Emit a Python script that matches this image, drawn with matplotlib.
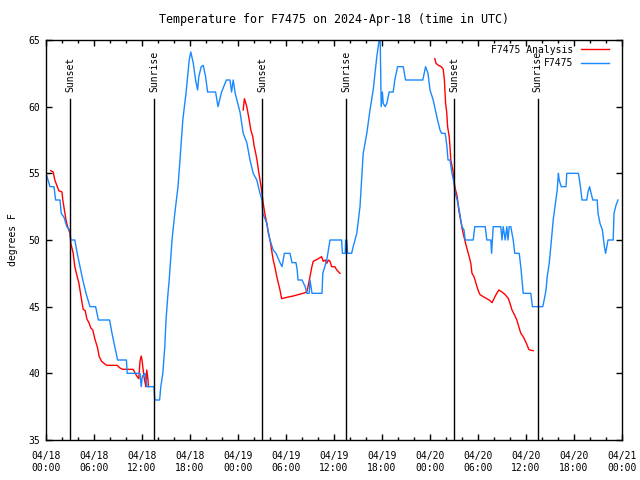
"""Temperature for F7475 on 2024-Apr-18: observations vs analysis, with sunset/sunrise marks."""

import numpy as np
import matplotlib
matplotlib.use("Agg")
import matplotlib.pyplot as plt
import matplotlib.dates as mdates

# ---
# Data (hours after 2024-04-18 00:00 UTC, degrees F)
# ---

start = np.datetime64("2024-04-18T00:00")

obs_hours = [
    0.0, 0.5, 1.0, 1.2, 1.75, 1.9, 2.25, 2.6, 3.0, 3.1, 3.6, 3.9, 4.25, 4.6, 5.0,
    5.25, 5.5, 6.2, 6.55, 7.95, 8.25, 8.6, 8.95, 10.05, 10.15, 11.75, 11.9, 12.05,
    12.4, 12.6, 13.5, 13.6, 14.2, 14.35, 14.6, 14.85, 15.0, 15.25, 15.4, 15.75,
    16.1, 16.5, 16.75, 17.1, 17.5, 17.9, 18.1, 18.4, 18.7, 18.95, 19.1, 19.4,
    19.65, 19.95, 20.2, 21.2, 21.5, 21.7, 21.95, 22.55, 23.0, 23.2, 23.4, 23.65,
    23.9, 24.25, 24.65, 25.1, 25.5, 25.9, 26.35, 26.75, 27.0, 27.1, 27.6, 27.75,
    28.0, 28.4, 28.75, 29.25, 29.5, 29.8, 30.5, 30.75, 31.25, 31.4, 31.5, 32.0,
    32.4, 32.6, 32.9, 33.0, 33.25, 34.5, 34.6, 35.1, 35.5, 36.95, 37.05, 37.4,
    37.45, 37.6, 37.7, 38.2, 38.4, 38.85, 39.25, 39.65, 40.1, 40.5, 40.9, 41.35,
    41.6, 41.75, 41.9, 42.05, 42.15, 42.4, 42.6, 42.9, 43.4, 43.6, 43.95, 44.65,
    44.95, 47.1, 47.45, 47.75, 48.0, 48.4, 48.85, 49.25, 49.45, 49.9, 50.1,
    50.25, 50.5, 50.75, 51.0, 51.15, 51.4, 51.65, 51.85, 52.0, 52.25, 52.4, 53.4,
    53.6, 54.9, 55.1, 55.6, 55.7, 55.8, 55.9, 56.85, 57.0, 57.15, 57.4, 57.6,
    57.75, 57.9, 58.1, 58.4, 58.6, 59.15, 59.35, 59.5, 59.65, 60.6, 60.8, 62.1,
    62.35, 62.5, 62.65, 62.9, 63.1, 63.4, 63.6, 63.9, 64.05, 64.15, 64.4, 65.0,
    65.1, 66.55, 66.75, 67.0, 67.6, 67.75, 67.95, 68.1, 68.35, 68.9, 69.0, 69.25,
    69.55, 69.8, 69.95, 70.1, 70.25, 70.9, 71.0, 71.25, 71.5,
]
obs_temp = [
    55, 54, 54, 53, 53, 52, 51.7, 51, 50.7, 50, 50, 49, 48, 47, 46,
    45.5, 45, 45, 44, 44, 43, 42, 41, 41, 40, 40, 39, 39.8,
    40, 39, 39, 38, 38, 39, 40, 42, 44, 46, 47, 50,
    52, 54, 56, 59, 61, 63.5, 64.1, 63.3, 62, 61.25, 62.25, 63,
    63.1, 62.25, 61.1, 61.1, 60, 60.5, 61.1, 62, 62, 61.1, 62, 61,
    60.4, 59.6, 58, 57.3, 56, 55, 54.5, 53.5, 53, 52, 51.25, 50.75,
    50, 49.25, 49, 48.3, 48, 49, 49, 48.3, 48.3, 47.75, 47, 47,
    46.5, 46, 46, 47, 46, 46, 47.5, 48.5, 50, 50, 49, 49,
    50, 50, 49, 49, 49.5, 50.5, 52.5, 56.5, 58, 59.75, 61.25, 63.75,
    64.8, 66, 60, 61.1, 60.25, 60, 60.25, 61.1, 61.1, 62, 63, 63,
    62, 62, 63, 62.5, 61.25, 60.5, 59.25, 58.25, 58, 58, 57.1,
    56, 56, 55, 54.3, 53.5, 53, 52.25, 51.5, 51, 50.75, 50, 50,
    51, 51, 50, 50, 49, 50, 51, 51, 50, 51, 50, 51,
    50, 51, 51, 50, 49, 49, 48, 47, 46, 46, 45, 45,
    45.75, 46.25, 47.25, 48.25, 49.5, 51.5, 52.4, 53.75, 55, 54.5, 54, 54,
    55, 55, 54.25, 53, 53, 53.6, 54, 53.6, 53, 53, 52, 51.25,
    50.75, 49.5, 49, 49.5, 50, 50, 52, 52.6, 53,
]

# Analysis comes in three separate runs
ana1_hours = [
    0.6, 0.9, 1.1, 1.6, 2.0, 2.1, 2.3, 2.5, 2.7, 3.0, 3.1, 3.4, 3.6, 3.9, 4.1,
    4.45, 4.65, 4.9, 5.1, 5.4, 5.6, 5.85, 6.1, 6.45, 6.65, 6.95, 7.25, 7.6, 8.9,
    9.25, 9.6, 10.9, 11.15, 11.4, 11.6, 11.75, 11.9, 12.0, 12.1, 12.25, 12.4,
    12.5, 12.6, 12.75, 12.8,
]
ana1_temp = [
    55.2, 55.1, 54.5, 53.7, 53.6, 53, 52.25, 51.5, 51, 50.5, 49.75, 49, 48, 47.25, 46.8,
    45.5, 44.8, 44.7, 44.1, 43.75, 43.4, 43.25, 42.6, 41.9, 41.25, 40.9, 40.75, 40.6, 40.6,
    40.4, 40.3, 40.3, 40, 39.75, 39.6, 40.9, 41.3, 41, 40.5, 39.75, 39.25,
    39, 40.25, 39.5, 39,
]
ana2_hours = [
    24.65, 24.8, 25.1, 25.4, 25.6, 25.85, 26.0, 26.25, 26.4, 26.55, 26.75, 26.95,
    27.15, 27.35, 27.6, 27.8, 28.0, 28.2, 28.4, 28.6, 28.85, 29.05, 29.25, 29.45,
    30.1, 30.9, 31.5, 32.15, 32.6, 32.75, 33.0, 33.2, 33.4, 34.05, 34.45, 34.65,
    34.9, 35.1, 35.3, 35.5, 35.7, 36.1, 36.35, 36.75,
]
ana2_temp = [
    59.75, 60.6, 60, 59, 58.25, 57.75, 57.1, 56.4, 55.9, 55.25, 54.5, 53.75,
    52.75, 52, 51.25, 50.5, 50, 49.25, 48.5, 48, 47.25, 46.75, 46.25, 45.6,
    45.7, 45.8, 45.9, 46, 46.1, 46.5, 47.25, 47.9, 48.4, 48.6, 48.75, 48.4,
    48.5, 48.25, 48.5, 48.4, 48, 48, 47.75, 47.5,
]
ana3_hours = [
    48.6, 48.75, 49.05, 49.4, 49.65, 49.8, 49.95, 50.1, 50.2, 50.4, 50.5, 50.6,
    50.85, 51.1, 51.4, 51.6, 51.9, 52.05, 52.25, 52.45, 52.6, 52.9, 53.1, 53.25,
    53.5, 53.75, 54.0, 54.25, 54.65, 55.1, 55.4, 55.75, 56.0, 56.25, 56.6, 57.0,
    57.4, 57.8, 58.0, 58.25, 58.55, 58.85, 59.05, 59.35, 59.65, 60.05, 60.35,
    60.5, 60.9,
]
ana3_temp = [
    63.6, 63.25, 63.1, 63, 62.8, 62, 60.25, 59.5, 58.5, 57.75, 57, 56,
    55.25, 54, 53.25, 52.25, 51.25, 50.75, 50.25, 49.75, 49.4, 48.75, 48.25, 47.5,
    47.25, 46.75, 46.25, 45.9, 45.75, 45.6, 45.5, 45.3, 45.6, 45.9, 46.25, 46.1,
    45.9, 45.6, 45.25, 44.75, 44.4, 44, 43.6, 43, 42.75, 42.25, 41.8,
    41.75, 41.7,
]

sun_hours = [3.03, 13.55, 27.03, 37.53, 51.0, 61.48]
sun_labels = ["Sunset", "Sunrise", "Sunset", "Sunrise", "Sunset", "Sunrise"]


def to_time(hours):
    minutes = np.round(np.asarray(hours) * 60).astype(int)
    return start + minutes.astype("timedelta64[m]")


def main():
    plt.rcParams["font.family"] = ["DejaVu Sans Mono"]
    plt.rcParams["font.size"] = 7

    fig = plt.figure(figsize=(6.4, 4.8), dpi=100)
    ax = fig.add_axes([46 / 640, 40 / 480, 576 / 640, 400 / 480])

    red = "#ff0000"
    blue = "#1a88ff"

    ax.plot(to_time(ana1_hours), ana1_temp, color=red, lw=1.0, label="F7475 Analysis")
    ax.plot(to_time(ana2_hours), ana2_temp, color=red, lw=1.0)
    ax.plot(to_time(ana3_hours), ana3_temp, color=red, lw=1.0)
    ax.plot(to_time(obs_hours), obs_temp, color=blue, lw=1.0, label="F7475")

    for h, lab in zip(sun_hours, sun_labels):
        t = to_time([h])[0]
        ax.plot([t, t], [35, 60.6], color="black", lw=1.0)
        ax.text(t, 61.1, lab, rotation=90, ha="center", va="bottom")

    ax.set_xlim(start, start + np.timedelta64(72, "h"))
    ax.set_ylim(35, 65)
    ax.set_yticks(np.arange(35, 66, 5))

    ax.xaxis.set_major_locator(mdates.HourLocator(byhour=range(0, 24, 6)))
    ax.xaxis.set_minor_locator(mdates.HourLocator(byhour=range(0, 24, 2)))
    ax.xaxis.set_major_formatter(mdates.DateFormatter("%m/%d\n%H:%M"))

    ax.tick_params(which="both", direction="in", top=True, right=True, width=1.0)
    ax.tick_params(which="major", length=4, pad=8)
    ax.tick_params(which="minor", length=2)
    ax.tick_params(axis="y", pad=4)
    for s in ax.spines.values():
        s.set_linewidth(1.0)

    ax.set_ylabel("degrees F", labelpad=8)
    ax.set_title("Temperature for F7475 on 2024-Apr-18 (time in UTC)", pad=12)

    ax.legend(loc="upper right", frameon=False, markerfirst=False,
              handlelength=2.9, handletextpad=0.8, labelspacing=0.35,
              borderaxespad=0.0, bbox_to_anchor=(613 / 640, 1 - 41 / 480),
              bbox_transform=fig.transFigure)

    fig.savefig("out.png", dpi=100)


if __name__ == "__main__":
    main()
